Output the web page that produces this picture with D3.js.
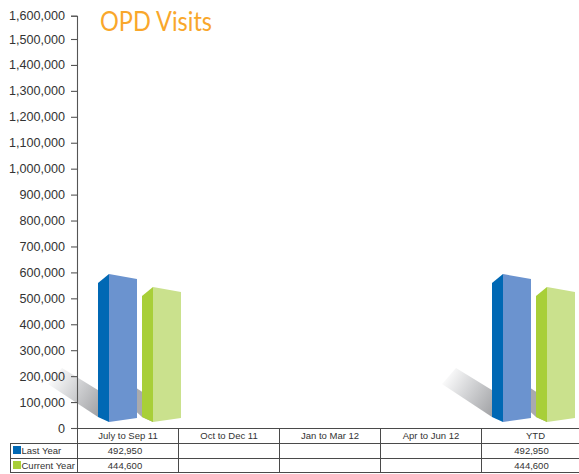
<!DOCTYPE html>
<html><head><meta charset="utf-8">
<script src="https://cdn.jsdelivr.net/npm/d3@7"></script>
<style>html,body{margin:0;padding:0;background:#fff}svg{display:block}text{font-family:"Liberation Sans",Arial,sans-serif}</style>
</head><body><svg id="c" width="579" height="474"></svg>
<script>
const title = "OPD Visits";
const categories = ["July to Sep 11","Oct to Dec 11","Jan to Mar 12","Apr to Jun 12","YTD"];
const seriesNames = ["Last Year","Current Year"];
const lastYear = [492950,null,null,null,492950];
const currentYear = [444600,null,null,null,444600];
const yTicks = d3.range(0,1600001,100000);
const colors = [{side:"#0068b4",front:"#6b93cf"},{side:"#a8cf38",front:"#cae18d"}];
const svg = d3.select("#c");

const y = d3.scaleLinear().domain([0,1500000,1600000]).range([428,39,15.7]);
const yBar = d3.scaleLinear().domain([0,492950]).range([406,274]);
const barBase = 422;
const xTable = d3.scaleBand().domain(categories).range([77,582]);
const xBar = d3.scalePoint().domain(categories).range([98,492]);
const dx = {side:11, front:28, gap:44};
const defs = svg.append("defs");

// shadows
categories.forEach((c,i)=>{
  if(lastYear[i]==null) return;
  const x0 = xBar(c);
  const id = "sh"+i;
  const g = defs.append("linearGradient").attr("id",id).attr("gradientUnits","userSpaceOnUse")
    .attr("x1",x0-46).attr("y1",372).attr("x2",x0+6).attr("y2",405);
  g.append("stop").attr("offset",0).attr("stop-color","#fff");
  g.append("stop").attr("offset",0.45).attr("stop-color","#d4d5d7");
  g.append("stop").attr("offset",1).attr("stop-color","#a2a3a6");
  svg.append("path").attr("fill","url(#"+id+")")
    .attr("d",d3.line()([[x0-36,368],[x0-50,384],[x0,417],[x0+8,417],[x0+8,395]])+"Z");
  svg.append("path").attr("fill","#a9aaad")
    .attr("d",d3.line()([[x0+8,368],[x0,376],[x0+44,417],[x0+55,422],[x0+55,399]])+"Z");
});
const axis = d3.axisLeft(y).tickValues(yTicks).tickFormat(d3.format(",")).tickSize(6).tickPadding(6);
const ag = svg.append("g").attr("transform","translate(77,0)").call(axis);
ag.selectAll("path,line").attr("stroke","#555").attr("stroke-width",1.1);
ag.select("path").attr("d","M-6,16.2H0.5V428.5H-6");
ag.selectAll("text").attr("font-size",12.6).attr("fill","#333");

[lastYear,currentYear].forEach((vals,s)=>{
  categories.forEach((c,i)=>{
    const v = vals[i]; if(v==null) return;
    const x0 = xBar(c)+s*dx.gap, top = yBar(v), bot = barBase;
    svg.append("path").attr("fill",colors[s].side)
      .attr("d",d3.line()([[x0,top+9],[x0+dx.side,top],[x0+dx.side,bot],[x0,bot-5]])+"Z");
    svg.append("path").attr("fill",colors[s].front)
      .attr("d",d3.line()([[x0+dx.side,top],[x0+dx.side+dx.front,top+5],[x0+dx.side+dx.front,bot-4],[x0+dx.side,bot]])+"Z");
  });
});

// data table
const lc="#4a4a4a";
const rowY=[428,443,458,473];
const T=svg.append("g");
const hl=(x1,x2,yy)=>T.append("line").attr("x1",x1).attr("x2",x2).attr("y1",yy+.5).attr("y2",yy+.5).attr("stroke",lc);
const vl=(xx,y1,y2)=>T.append("line").attr("x1",xx+.5).attr("x2",xx+.5).attr("y1",y1).attr("y2",y2).attr("stroke",lc);
hl(77,579,428);hl(10,579,443);hl(10,579,458);hl(10,579,472);
vl(10,443,473);
categories.forEach(c=>vl(xTable(c),428,473));
categories.forEach((c,i)=>{
  const cx=xTable(c)+xTable.bandwidth()/2;
  const last = i===categories.length-1;
  T.append("text").attr("x",cx+(last?4:0.5)).attr("y",439).attr("text-anchor","middle").attr("font-size",9.5).attr("fill","#333").text(c);
  [lastYear,currentYear].forEach((vals,s)=>{
    if(vals[i]==null) return;
    T.append("text").attr("x",cx+(last?0:-2.5)).attr("y",rowY[s+1]+11).attr("text-anchor","middle").attr("font-size",9.5).attr("fill","#333").text(d3.format(",")(vals[i]));
  });
});
seriesNames.forEach((n,s)=>{
  T.append("rect").attr("x",13).attr("y",rowY[s+1]+3).attr("width",8).attr("height",8).attr("fill",colors[s].side);
  T.append("text").attr("x",21.5).attr("y",rowY[s+1]+11).attr("font-size",9.5).attr("fill","#333").text(n);
});
svg.append("text").attr("x",100).attr("y",31).style("font-family","Lato").attr("font-size",26).attr("textLength",112).attr("lengthAdjust","spacingAndGlyphs").attr("fill","#f9a72b").text(title);
</script></body></html>
